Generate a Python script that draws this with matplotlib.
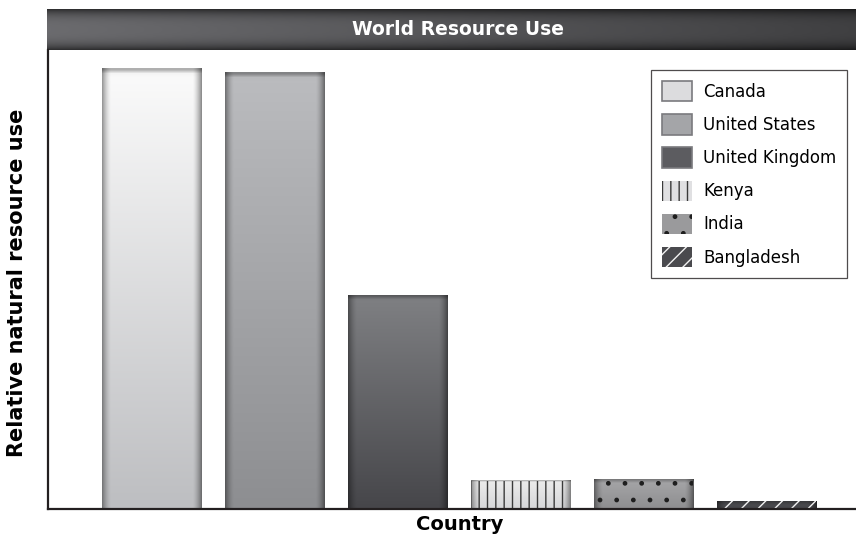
import numpy as np
import matplotlib
matplotlib.use("Agg")
import matplotlib.pyplot as plt
from matplotlib.patches import Patch
from matplotlib.colors import to_rgb

countries = ["Canada", "United States", "United Kingdom", "Kenya", "India", "Bangladesh"]
resource_use = [100, 99.1, 48.4, 6.4, 6.6, 1.8]

# top colour, bottom colour, hatch, hatch colour
top_cols = ["#fbfbfb", "#bbbcbf", "#7f8083", "#ececec", "#a6a6a8", "#4e4e52"]
bot_cols = ["#bdbec1", "#8d8e91", "#46464a", "#d6d6d8", "#8e8e90", "#454549"]
legend_cols = ["#dcdcde", "#a4a5a8", "#5c5c60", "#e0e0e2", "#9a9a9c", "#4a4a4e"]
hatches = [None, None, None, "||", ".", "//"]
hatch_cols = [None, None, None, "#3a3a3a", "#1e1e1e", "#f2f2f2"]

fig = plt.figure(figsize=(8.56, 5.37), dpi=100)

# title bar
tax = fig.add_axes([47 / 856, 1 - 50 / 537, 809 / 856, 41 / 537])
yy = np.linspace(0, 1, 40)[:, None]
xx = np.linspace(0, 1, 200)[None, :]
horiz = 0.42 - 0.17 * xx
vert = 1 - 0.55 * (np.abs(yy - 0.5) * 2) ** 3
val = horiz * vert
tax.imshow(np.dstack([val, val, val * 1.03]).clip(0, 1), aspect="auto", extent=[0, 1, 0, 1])
tax.set_xlim(0, 1)
tax.set_ylim(0, 1)
tax.axis("off")
tax.text(0.508, 0.5, "World Resource Use", color="white", fontsize=13.5,
         fontweight="bold", family="DejaVu Sans", ha="center", va="center")

ax = fig.add_axes([48 / 856, 1 - 509 / 537, 808 / 856, 459 / 537])
x = np.arange(len(countries))
width = 0.81

bars = ax.bar(x, resource_use, width=width, color="none", linewidth=0, zorder=1)

handles = []
for b, tc, bc, lc, h, hc, name in zip(bars, top_cols, bot_cols, legend_cols,
                                      hatches, hatch_cols, countries):
    x0, y0 = b.get_x(), b.get_y()
    w, hgt = b.get_width(), b.get_height()
    ny, nx = 120, 100
    t = np.linspace(0, 1, ny)[:, None, None]
    img = (1 - t) * np.array(to_rgb(tc)) + t * np.array(to_rgb(bc))
    u = np.linspace(0, 1, nx)
    d = np.minimum(u, 1 - u)
    edge = np.clip(1 - d / 0.09, 0, 1) ** 1.6
    edge = edge + 0.12 * (u > 0.5) * np.clip(1 - (1 - u) / 0.09, 0, 1)
    img = img * (1 - 0.38 * edge)[None, :, None]
    top_px = hgt * 459 / ax.get_ylim()[1]
    ts = np.linspace(0, 1, ny) * top_px
    topband = np.clip(1 - ts / 4.0, 0, 1)
    img = img * (1 - 0.3 * topband)[:, None, None]
    ax.imshow(img.clip(0, 1), extent=[x0, x0 + w, y0, y0 + hgt], aspect="auto",
              origin="upper", zorder=1, interpolation="bilinear")
    if h:
        ax.bar(b.get_x() + w / 2, hgt, width=w, color="none", edgecolor=hc,
               linewidth=0, hatch=h, zorder=2)
        handles.append(Patch(facecolor=lc, edgecolor=hc, linewidth=0,
                             hatch=h, label=name))
    else:
        handles.append(Patch(facecolor=lc, edgecolor="#7a7a7e", linewidth=1.2,
                             label=name))

ax.set_xlim(-0.846, 5.73)
ax.set_ylim(0, 104.1)
ax.set_aspect("auto")

for s in ["top", "right"]:
    ax.spines[s].set_visible(False)
for s in ["left", "bottom"]:
    ax.spines[s].set_color("#231f20")
    ax.spines[s].set_linewidth(1.6)
ax.set_xticks([])
ax.set_yticks([])

leg = ax.legend(handles=handles, loc="upper right", bbox_to_anchor=(0.989, 0.956),
                prop={"family": ["Liberation Sans Narrow", "DejaVu Sans"], "size": 12},
                frameon=True, fancybox=False, edgecolor="#231f20",
                handlelength=1.8, handleheight=1.5, handletextpad=0.65,
                labelspacing=0.77, borderpad=0.65, borderaxespad=0)
leg.get_frame().set_linewidth(0.9)

fig.text(17 / 856, 1 - 283 / 537, "Relative natural resource use", rotation=90,
         fontsize=15, fontweight="bold", family="DejaVu Sans", ha="center", va="center")
fig.text(460 / 856, 1 - 524 / 537, "Country", fontsize=14, fontweight="bold",
         family="DejaVu Sans", ha="center", va="center")

fig.savefig("out.png", dpi=100)
